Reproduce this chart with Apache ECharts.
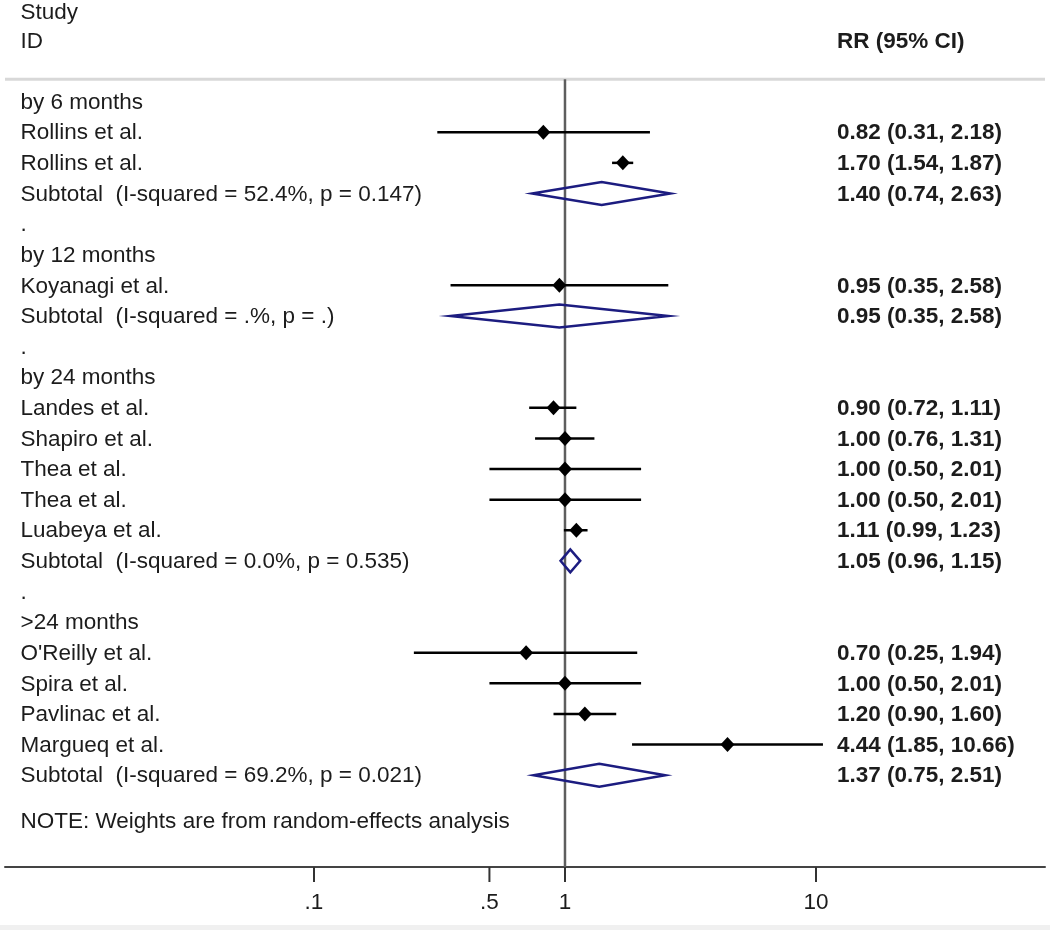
<!DOCTYPE html>
<html>
<head>
<meta charset="utf-8">
<script src="https://cdn.jsdelivr.net/npm/echarts/dist/echarts.min.js"></script>
<style>
html,body{margin:0;padding:0;background:#fff;}
#chart{width:1050px;height:930px;}
</style>
</head>
<body>
<div id="chart"></div>
<script>
// ---------- data ----------
const rowLabels = [
  "by 6 months",
  "Rollins et al.",
  "Rollins et al.",
  "Subtotal  (I-squared = 52.4%, p = 0.147)",
  ".",
  "by 12 months",
  "Koyanagi et al.",
  "Subtotal  (I-squared = .%, p = .)",
  ".",
  "by 24 months",
  "Landes et al.",
  "Shapiro et al.",
  "Thea et al.",
  "Thea et al.",
  "Luabeya et al.",
  "Subtotal  (I-squared = 0.0%, p = 0.535)",
  ".",
  ">24 months",
  "O'Reilly et al.",
  "Spira et al.",
  "Pavlinac et al.",
  "Margueq et al.",
  "Subtotal  (I-squared = 69.2%, p = 0.021)"
];
const rowKind = ["group","study","study","sub","gap","group","study","sub","gap","group",
  "study","study","study","study","study","sub","gap","group","study","study","study","study","sub"];
const est = [null,0.82,1.70,1.40,null,null,0.95,0.95,null,null,0.90,1.00,1.00,1.00,1.11,1.05,null,null,0.70,1.00,1.20,4.44,1.37];
const lo  = [null,0.31,1.54,0.74,null,null,0.35,0.35,null,null,0.72,0.76,0.50,0.50,0.99,0.96,null,null,0.25,0.50,0.90,1.85,0.75];
const hi  = [null,2.18,1.87,2.63,null,null,2.58,2.58,null,null,1.11,1.31,2.01,2.01,1.23,1.15,null,null,1.94,2.01,1.60,10.66,2.51];
const tickValues = [0.1, 0.5, 1, 10];
const tickLabels = [".1", ".5", "1", "10"];
const headerLeft = ["Study", "ID"];
const headerRight = "RR (95% CI)";
const noteText = "NOTE: Weights are from random-effects analysis";

// ---------- styling ----------
const FONT = "'Liberation Sans', Arial, Helvetica, sans-serif";
const FS = 22.5;
const TXT = "#1c1c1c";
const LEFT_X = 20.5;
const RIGHT_X = 837;
const TDY = 1;

function textEl(x, y, str, bold, align) {
  return {
    type: "text",
    x: x, y: y + TDY,
    style: {
      text: str,
      fill: TXT,
      font: (bold ? "bold " : "") + FS + "px " + FONT,
      align: align || "left",
      verticalAlign: "middle",
      textAlign: align || "left",
      textVerticalAlign: "middle"
    }
  };
}

const ciData = [];
est.forEach((e, i) => {
  if (e != null) ciData.push([e, i, lo[i], hi[i], rowKind[i] === "sub" ? 1 : 0]);
});
const leftData = rowLabels.map((s, i) => [1, i]);
const rightData = ciData.map(d => [1, d[1]]);
const tickData = tickValues.map((v, i) => [v, 25, i]);

const chart = echarts.init(document.getElementById("chart"), null, {renderer: "canvas"});
const option = {
  backgroundColor: "#fff",
  animation: false,
  grid: {left: 5, right: 5, top: 0, bottom: 63, containLabel: false},
  xAxis: {
    type: "log",
    min: 0.005875,
    max: 81.73,
    axisLine: {show: true, onZero: false, lineStyle: {color: "#444", width: 2}},
    axisTick: {show: false},
    axisLabel: {show: false},
    splitLine: {show: false},
    minorTick: {show: false}
  },
  yAxis: {
    type: "value",
    inverse: true,
    min: -3.32,
    max: 25,
    show: false,
    splitLine: {show: false}
  },
  graphic: [
    {type: "rect", left: 0, top: 925, shape: {width: 1050, height: 5}, style: {fill: "#f0f0f0"}}
  ],
  series: [
    {
      // frame: reference line at RR = 1 and header separator
      type: "custom",
      coordinateSystem: "cartesian2d",
      silent: true,
      z: 1,
      data: [[1, 0]],
      renderItem: function (params, api) {
        const top = api.coord([1, -0.73]);
        const bot = api.coord([1, 25]);
        const sl = api.coord([0.005875, -0.73]);
        const sr = api.coord([81.73, -0.73]);
        return {
          type: "group",
          children: [
            {type: "line", shape: {x1: sl[0], y1: sl[1], x2: sr[0], y2: sr[1]}, style: {stroke: "#d8d8d8", lineWidth: 3}},
            {type: "line", shape: {x1: top[0], y1: top[1], x2: bot[0], y2: bot[1]}, style: {stroke: "#5e5e5e", lineWidth: 2.5}}
          ]
        };
      }
    },
    {
      // axis ticks and labels
      type: "custom",
      coordinateSystem: "cartesian2d",
      silent: true,
      z: 2,
      data: tickData,
      renderItem: function (params, api) {
        const p = api.coord([api.value(0), api.value(1)]);
        const idx = api.value(2);
        return {
          type: "group",
          children: [
            {type: "line", shape: {x1: p[0], y1: p[1], x2: p[0], y2: p[1] + 15}, style: {stroke: "#333", lineWidth: 2}},
            textEl(p[0], p[1] + 35, tickLabels[idx], false, "center")
          ]
        };
      }
    },
    {
      // confidence intervals, point estimates, pooled diamonds
      type: "custom",
      coordinateSystem: "cartesian2d",
      silent: true,
      z: 3,
      encode: {x: [0, 2, 3], y: 1},
      data: ciData,
      renderItem: function (params, api) {
        const e = api.value(0), r = api.value(1), l = api.value(2), h = api.value(3), isSub = api.value(4);
        const pE = api.coord([e, r]), pL = api.coord([l, r]), pH = api.coord([h, r]);
        const y = pE[1];
        if (isSub) {
          const hh = 11.5;
          return {
            type: "polygon",
            shape: {points: [[pL[0], y], [pE[0], y - hh], [pH[0], y], [pE[0], y + hh]]},
            style: {fill: "none", stroke: "#1c1c80", lineWidth: 2.5, lineJoin: "miter"}
          };
        }
        return {
          type: "group",
          children: [
            {type: "line", shape: {x1: pL[0], y1: y, x2: pH[0], y2: y}, style: {stroke: "#000", lineWidth: 2.5}},
            {type: "polygon", shape: {points: [[pE[0] - 7, y], [pE[0], y - 7.5], [pE[0] + 7, y], [pE[0], y + 7.5]]}, style: {fill: "#000"}}
          ]
        };
      }
    },
    {
      // left column: study labels
      type: "custom",
      coordinateSystem: "cartesian2d",
      silent: true,
      z: 4,
      data: leftData,
      renderItem: function (params, api) {
        const r = api.value(1);
        const p = api.coord([1, r]);
        return textEl(LEFT_X, p[1], rowLabels[r], false, "left");
      }
    },
    {
      // right column: RR (95% CI)
      type: "custom",
      coordinateSystem: "cartesian2d",
      silent: true,
      z: 4,
      data: rightData,
      renderItem: function (params, api) {
        const r = api.value(1);
        const p = api.coord([1, r]);
        const s = est[r].toFixed(2) + " (" + lo[r].toFixed(2) + ", " + hi[r].toFixed(2) + ")";
        return textEl(RIGHT_X, p[1], s, true, "left");
      }
    },
    {
      // headers and note
      type: "custom",
      coordinateSystem: "cartesian2d",
      silent: true,
      z: 4,
      data: [[1, 0]],
      renderItem: function (params, api) {
        const y0 = api.coord([1, -2.92])[1];
        const y1 = api.coord([1, -1.98])[1];
        const yn = api.coord([1, 23.5])[1];
        return {
          type: "group",
          children: [
            textEl(LEFT_X, y0, headerLeft[0], false, "left"),
            textEl(LEFT_X, y1, headerLeft[1], false, "left"),
            textEl(RIGHT_X, y1, headerRight, true, "left"),
            textEl(LEFT_X, yn, noteText, false, "left")
          ]
        };
      }
    }
  ]
};
chart.setOption(option);
</script>
</body>
</html>
